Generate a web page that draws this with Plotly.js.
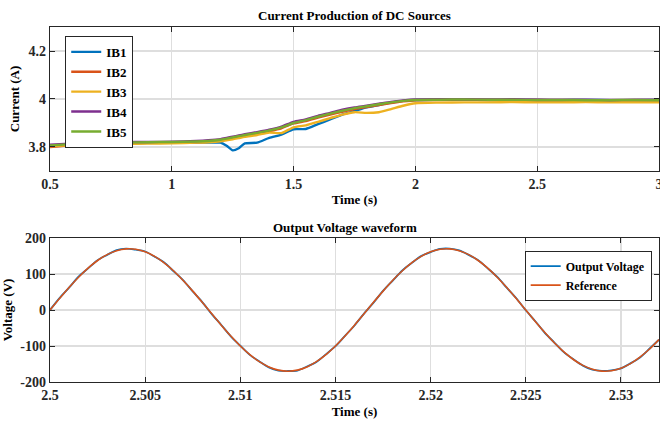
<!DOCTYPE html>
<html><head><meta charset="utf-8">
<script src="https://cdn.plot.ly/plotly-3.0.1.min.js"></script>
<style>html,body{margin:0;padding:0;background:#fff}#plot{width:660px;height:428px}</style>
</head><body><div id="plot"></div>
<script>
// ---- Top chart: currents of DC sources ----
const tCur = [0.5,0.6,0.7,0.8,0.9,1.0,1.1,1.15,1.2,1.225,1.25,1.275,1.3,1.35,1.4,1.45,1.5,1.55,1.6,1.65,1.7,1.75,1.8,1.85,1.9,1.95,2.0,2.1,2.2,2.3,2.4,2.5,2.6,2.7,2.8,2.9,3.0];
const IB1 = [3.806,3.812,3.815,3.816,3.817,3.818,3.818,3.818,3.818,3.805,3.786,3.795,3.815,3.818,3.838,3.852,3.874,3.875,3.895,3.915,3.935,3.950,3.965,3.975,3.985,3.992,3.996,3.997,3.997,3.996,3.996,3.995,3.995,3.996,3.995,3.995,3.996];
const IB2 = [3.800,3.808,3.812,3.815,3.817,3.818,3.820,3.822,3.827,3.832,3.837,3.842,3.847,3.856,3.866,3.878,3.898,3.908,3.922,3.935,3.947,3.958,3.966,3.975,3.983,3.990,3.995,3.996,3.997,3.996,3.995,3.994,3.993,3.994,3.993,3.994,3.993];
const IB3 = [3.804,3.808,3.810,3.812,3.814,3.815,3.818,3.820,3.824,3.828,3.832,3.837,3.842,3.850,3.860,3.858,3.882,3.890,3.905,3.920,3.935,3.945,3.942,3.945,3.958,3.972,3.982,3.985,3.986,3.986,3.987,3.986,3.986,3.987,3.986,3.986,3.986];
const IB4 = [3.810,3.815,3.818,3.820,3.821,3.822,3.825,3.828,3.833,3.838,3.843,3.848,3.853,3.862,3.872,3.885,3.905,3.915,3.930,3.942,3.955,3.965,3.972,3.980,3.988,3.994,3.998,3.999,3.999,3.998,3.999,3.998,3.997,3.997,3.996,3.997,3.997];
const IB5 = [3.806,3.813,3.816,3.818,3.820,3.821,3.823,3.825,3.830,3.835,3.840,3.845,3.850,3.859,3.869,3.882,3.900,3.912,3.926,3.939,3.951,3.962,3.970,3.978,3.986,3.992,3.996,3.997,3.998,3.997,3.997,3.996,3.996,3.995,3.995,3.996,3.995];
const curNames = ['IB1','IB2','IB3','IB4','IB5'];

// ---- Bottom chart: output voltage vs reference ----
const tVolt = [2.5,2.5005,2.501,2.5015,2.502,2.5025,2.503,2.5035,2.504,2.5045,2.505,2.5055,2.506,2.5065,2.507,2.5075,2.508,2.5085,2.509,2.5095,2.51,2.5105,2.511,2.5115,2.512,2.5125,2.513,2.5135,2.514,2.5145,2.515,2.5155,2.516,2.5165,2.517,2.5175,2.518,2.5185,2.519,2.5195,2.52,2.5205,2.521,2.5215,2.522,2.5225,2.523,2.5235,2.524,2.5245,2.525,2.5255,2.526,2.5265,2.527,2.5275,2.528,2.5285,2.529,2.5295,2.53,2.5305,2.531,2.5315,2.532];
const vRef = [0,31.9,62.6,91.1,116.4,137.5,153.8,164.7,169.7,168.7,161.7,149.0,131.0,108.4,81.9,52.5,21.3,-10.7,-42.3,-72.4,-99.9,-123.9,-143.5,-158.1,-167.0,-170.0,-167.0,-158.1,-143.5,-123.9,-99.9,-72.4,-42.3,-10.7,21.3,52.5,81.9,108.4,131.0,149.0,161.7,168.7,169.7,164.7,153.8,137.5,116.4,91.1,62.6,31.9,0,-31.9,-62.6,-91.1,-116.4,-137.5,-153.8,-164.7,-169.7,-168.7,-161.7,-149.0,-131.0,-108.4,-81.9];
const vOut = [0,33.0,62.0,92.5,115.5,138.5,153.0,166.5,170.5,167.5,162.5,148.2,131.8,107.6,82.6,51.8,22.0,-11.4,-41.6,-73.1,-99.2,-124.6,-142.8,-159.4,-168.5,-169.5,-168.2,-157.0,-144.2,-123.2,-100.6,-71.7,-43.0,-10.0,20.6,53.2,81.2,109.1,130.3,149.7,161.0,169.6,170.4,165.5,153.1,138.2,115.7,91.8,61.9,32.6,-0.7,-31.2,-63.3,-90.4,-117.1,-136.8,-154.5,-165.8,-169.0,-167.6,-162.4,-148.3,-131.7,-107.7,-82.6];
const voltNames = ['Output Voltage','Reference'];

const colors = ['#0072BD','#D95319','#EDB120','#7E2F8E','#77AC30'];
const curSeries = [IB1,IB2,IB3,IB4,IB5];
const FAM = 'Liberation Serif';

const traces = [];
curSeries.forEach((s,i)=>{
  traces.push({x:tCur,y:s,name:curNames[i],type:'scatter',mode:'lines',
    line:{color:colors[i],width:2.4,shape:'spline',smoothing:0.6},xaxis:'x',yaxis:'y',legend:'legend'});
});
traces.push({x:tVolt,y:vOut,name:voltNames[0],type:'scatter',mode:'lines',
  line:{color:colors[0],width:1.8,shape:'spline',smoothing:0.8},xaxis:'x2',yaxis:'y2',legend:'legend2'});
traces.push({x:tVolt,y:vRef,name:voltNames[1],type:'scatter',mode:'lines',
  line:{color:colors[1],width:1.6,shape:'spline',smoothing:0.8},xaxis:'x2',yaxis:'y2',legend:'legend2'});

const tickFont = {family:FAM, size:14, color:'#262626', weight:700};
const titleFont = {family:FAM, size:13, color:'#000', weight:700};
const axisCommon = {
  showline:true, linecolor:'#262626', linewidth:1.2, mirror:'ticks',
  ticks:'inside', ticklen:5, tickcolor:'#262626',
  showgrid:true, gridcolor:'#dedede', gridwidth:1.2, zeroline:false,
  tickfont:tickFont, ticklabeloverflow:'allow'
};

const layout = {
  width:660, height:428,
  margin:{l:50, r:1, t:27, b:46},
  paper_bgcolor:'#fff', plot_bgcolor:'#fff',
  font:{family:FAM, size:13, color:'#262626', weight:700},
  showlegend:true,
  xaxis: Object.assign({}, axisCommon, {domain:[0,1], anchor:'y', range:[0.5,3],
    tickvals:[0.5,1,1.5,2,2.5,3], ticktext:['0.5','1','1.5','2','2.5','3'],
    title:{text:'Time (s)', font:titleFont, standoff:4}}),
  yaxis: Object.assign({}, axisCommon, {domain:[0.5944,1], anchor:'x', range:[3.7,4.3],
    tickvals:[3.8,4.0,4.2], ticktext:['3.8','4','4.2'],
    title:{text:'Current (A)', font:titleFont, standoff:6}}),
  xaxis2: Object.assign({}, axisCommon, {domain:[0,1], anchor:'y2', range:[2.5,2.532],
    tickvals:[2.5,2.505,2.51,2.515,2.52,2.525,2.53], ticktext:['2.5','2.505','2.51','2.515','2.52','2.525','2.53'],
    title:{text:'Time (s)', font:titleFont, standoff:4}}),
  yaxis2: Object.assign({}, axisCommon, {domain:[0,0.4056], anchor:'x2', range:[-200,200],
    tickvals:[-200,-100,0,100,200], ticktext:['-200','-100','0','100','200'],
    title:{text:'Voltage (V)', font:titleFont, standoff:4}}),
  legend:{x:0.025, y:0.975, xanchor:'left', yanchor:'top', bgcolor:'#fff',
    bordercolor:'#262626', borderwidth:1, font:{family:FAM, size:13, color:'#000', weight:700},
    tracegroupgap:0, itemwidth:30},
  legend2:{x:0.988, y:0.37, xanchor:'right', yanchor:'top', bgcolor:'#fff',
    bordercolor:'#262626', borderwidth:1, font:{family:FAM, size:12, color:'#000', weight:700},
    tracegroupgap:0, itemwidth:30},
  annotations:[
    {text:'Current Production of DC Sources', xref:'paper', yref:'paper', x:0.5, y:1, xanchor:'center', yanchor:'bottom',
     yshift:2, showarrow:false, font:titleFont},
    {text:'Output Voltage waveform', xref:'paper', yref:'paper', x:0.485, y:0.4056, xanchor:'center', yanchor:'bottom',
     yshift:1, showarrow:false, font:titleFont}
  ]
};

Plotly.newPlot('plot', traces, layout, {displayModeBar:false, staticPlot:true});
</script>
</body></html>
